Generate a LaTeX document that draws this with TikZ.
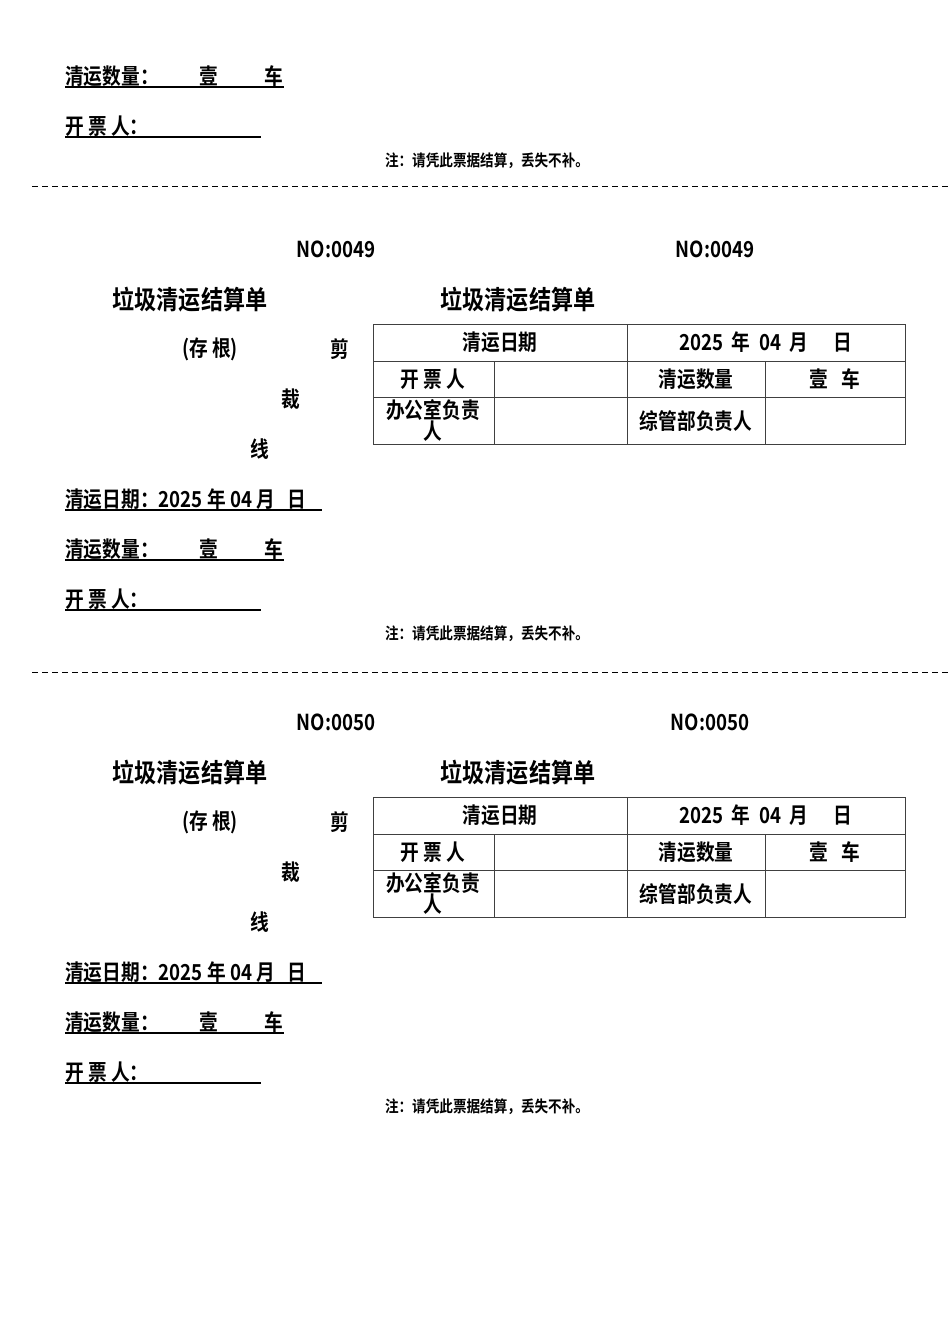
\documentclass[tikz,border=0pt]{standalone}
\usepackage{fontspec}
\setmainfont{Noto Sans CJK SC}[FakeStretch=0.85,BoldFont={* Bold}]
\newcommand{\fs}[1]{\fontsize{#1}{#1}\selectfont\bfseries}
\begin{document}
\begin{tikzpicture}[x=1pt,y=-1pt,
  txt/.style={inner sep=0,font=\fs{22}},
  ttl/.style={inner sep=0,font=\fs{26}},
  nt/.style={inner sep=0,font=\fs{16}},
  lft/.style={txt,anchor=west},
  grid/.style={draw=black!75,line width=0.9pt},
  uline/.style={line width=1.1pt}]
\useasboundingbox (0,0) rectangle (950,1344);
\clip (0,0) rectangle (950,1344);
\newcommand{\blockfoot}[1]{%
\begin{scope}[yshift=-#1]
\node[lft] (l2) at (65,549) {清运数量：};
\node[txt] (l2a) at (209,549) {壹};
\node[txt] (l2b) at (274,549) {车};
\draw[uline] (65,560) -- (284,560);
\node[lft] (l3) at (65,599) {开 票 人：};
\draw[uline] (65,610) -- (261,610);
\node[nt] (note) at (487,634) {注：请凭此票据结算，丢失不补。};
\end{scope}}
\newcommand{\block}[3]{%
\begin{scope}[yshift=-#1]
\node[txt] (noA) at (336,249) {NO:#2};
\node[txt] (noB) at (#3,249) {NO:#2};
\node[ttl] (tA) at (190,300) {垃圾清运结算单};
\node[ttl] (tB) at (518,300) {垃圾清运结算单};
\node[txt] (cg) at (210,349) {(存 根)};
\node[txt] (j1) at (340,349) {剪};
\node[txt] (j2) at (291,399) {裁};
\node[txt] (j3) at (260,449) {线};
\draw[grid] (373,324) rectangle (905,444);
\draw[grid] (373,361) -- (905,361) (373,397) -- (905,397);
\draw[grid] (627,324) -- (627,444) (494,361) -- (494,444) (765,361) -- (765,444);
\node[txt] (c1) at (500,342) {清运日期};
\node[txt] (c2) at (766,342) {2025\ \ 年\ \ 04\ \ 月\ \ \ \ \ \ 日};
\node[txt] (c3) at (433,379) {开 票 人};
\node[txt] (c4) at (696,379) {清运数量};
\node[txt] (c5) at (835,379) {壹\ \ \ 车};
\node[txt,align=center] (c6) at (433,420) {办公室负责\\[-1pt]人};
\node[txt] (c7) at (696,421) {综管部负责人};
\node[lft] (l1) at (65,499) {清运日期：2025 年 04 月\ \ \ 日};
\draw[uline] (65,510) -- (322,510);
\end{scope}
\blockfoot{#1}}
\blockfoot{-473}
\block{0}{0049}{715}
\block{473}{0050}{710}
\draw[dashed,line width=0.8pt,dash pattern=on 6pt off 4pt] (32,186) -- (950,186);
\draw[dashed,line width=0.8pt,dash pattern=on 6pt off 4pt] (32,672) -- (950,672);
\end{tikzpicture}
\end{document}
